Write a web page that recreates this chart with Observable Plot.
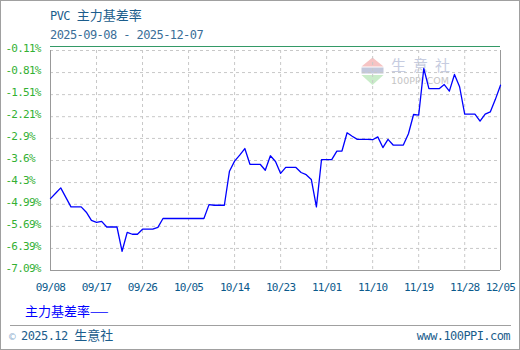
<!DOCTYPE html>
<html><head><meta charset="utf-8">
<script src="https://cdn.jsdelivr.net/npm/d3@7"></script>
<script src="https://cdn.jsdelivr.net/npm/@observablehq/plot@0.6"></script>
<style>
html,body{margin:0;padding:0;background:#fff;}
#wrap{position:relative;width:520px;height:350px;overflow:hidden;background:#fff;}
#deco,#chart{position:absolute;left:0;top:0;}
#chart svg{background:transparent;}
</style></head><body>
<div id="wrap"><svg id="deco" width="520" height="350"></svg><div id="chart"></div></div>
<script>
// ---- data ----
const dates = [
 "09/08","09/09","09/10","09/11","09/12","09/13","09/14","09/15","09/16","09/17","09/18","09/19","09/20","09/21",
 "09/22","09/23","09/24","09/25","09/26","09/27","09/28","09/29","09/30",
 "10/01","10/02","10/03","10/04","10/05","10/06","10/07","10/08","10/09","10/10","10/11","10/12",
 "10/13","10/14","10/15","10/16","10/17","10/18","10/19","10/20","10/21","10/22","10/23","10/24","10/25","10/26",
 "10/27","10/28","10/29","10/30","10/31","11/01","11/02","11/03","11/04","11/05","11/06","11/07","11/08","11/09",
 "11/10","11/11","11/12","11/13","11/14","11/15","11/16","11/17","11/18","11/19","11/20","11/21","11/22","11/23",
 "11/24","11/25","11/26","11/27","11/28","11/29","11/30","12/01","12/02","12/03","12/04","12/05"
];
const basisRate = [
 -4.81,-4.64,-4.47,-4.77,-5.07,-5.07,-5.07,-5.24,-5.50,-5.56,-5.53,-5.71,-5.71,-5.71,
 -6.48,-5.88,-5.94,-5.94,-5.78,-5.78,-5.78,-5.72,-5.44,
 -5.44,-5.44,-5.44,-5.44,-5.44,-5.44,-5.44,-5.44,-5.00,-5.02,-5.02,-5.02,
 -3.94,-3.62,-3.43,-3.22,-3.72,-3.72,-3.72,-3.91,-3.45,-3.63,-4.01,-3.82,-3.82,-3.82,
 -3.98,-4.05,-4.20,-5.07,-3.57,-3.57,-3.57,-3.30,-3.30,-2.72,-2.83,-2.93,-2.93,-2.93,
 -2.94,-2.85,-3.19,-2.93,-3.11,-3.11,-3.11,-2.75,-2.14,-2.16,-0.68,-1.32,-1.32,-1.32,
 -1.19,-1.40,-0.87,-1.26,-2.13,-2.13,-2.13,-2.35,-2.13,-2.06,-1.66,-1.21
];
const yTicks = [-0.11,-0.81,-1.51,-2.21,-2.9,-3.6,-4.3,-4.99,-5.69,-6.39,-7.09];
const xTickLabels = ["09/08","09/17","09/26","10/05","10/14","10/23","11/01","11/10","11/19","11/28","12/05"];
const year = "2025";
const titleAscii = "PVC ", titleCjk = "主力基差率";
const subtitle = "2025-09-08 - 2025-12-07";
const legendLabel = "主力基差率";
const footerLeftAscii = "2025.12 ", footerLeftCjk = "生意社";
const footerRight = "www.100PPI.com";

// ---- chart ----
const parse = s => d3.utcParse("%Y/%m/%d")(year + "/" + s);
const data = dates.map((d, i) => ({date: parse(d), value: basisRate[i]}));
const xTickDates = xTickLabels.map(parse);
const x0 = xTickDates[0], x1 = xTickDates[xTickDates.length - 1];
const mono = "'DejaVu Sans Mono', monospace";
const cjk = "'Noto Sans CJK SC', sans-serif";

const chart = Plot.plot({
  width: 520, height: 300,
  marginTop: 50, marginBottom: 30, marginLeft: 50, marginRight: 20,
  style: {background: "transparent", overflow: "visible"},
  x: {type: "utc", domain: [x0, x1]},
  y: {domain: [yTicks[yTicks.length - 1], yTicks[0]]},
  marks: [
    Plot.ruleY(yTicks, {stroke: "#c8c8c8", strokeDasharray: "3,3"}),
    Plot.ruleX(xTickDates.slice(1, -1), {stroke: "#c8c8c8", strokeDasharray: "3,3"}),
    Plot.ruleX([x0, x1], {stroke: "#999"}),
    Plot.ruleY([yTicks[yTicks.length - 1]], {stroke: "#999"}),
    Plot.ruleY([yTicks[0]], {stroke: "#339966", dy: -4}),
    Plot.line(data, {x: "date", y: "value", stroke: "#0000ff", strokeWidth: 1.3}),
    Plot.axisY(yTicks, {tickSize: 0, tickPadding: 0, textAnchor: "start", dx: -45, dy: -2,
      tickFormat: v => `${v}%`, color: "#33b033", fontSize: 11, fontFamily: mono, label: null}),
    Plot.axisX(xTickDates, {tickSize: 0, tickPadding: 13, tickFormat: d3.utcFormat("%m/%d"),
      color: "#0b5a8c", fontSize: 11, fontFamily: mono, label: null})
  ]
});
d3.select(chart).selectAll("text").style("letter-spacing", "-0.75px");
document.getElementById("chart").appendChild(chart);

// ---- decorations: frame, titles, legend, footer, watermark ----
const deco = d3.select("#deco");
deco.append("rect").attr("x", 0.5).attr("y", 0.5).attr("width", 519).attr("height", 349)
  .attr("fill", "#fff").attr("stroke", "#a0a0a0");

function addText(x, y, parts, anchor) {
  const t = deco.append("text").attr("x", x).attr("y", y).attr("text-anchor", anchor || "start");
  parts.forEach(p => {
    const s = t.append("tspan").text(p.t).attr("font-family", p.font).attr("font-size", p.size)
      .attr("fill", p.fill).style("letter-spacing", p.ls || "0px");
    if (p.len) s.attr("textLength", p.len).attr("lengthAdjust", "spacing");
  });
  return t;
}
// watermark
const wm = deco.append("g");
wm.append("polygon").attr("points", "361.5,66.5 372.5,57.5 383.5,66.5").attr("fill", "#f6c4c4");
wm.append("rect").attr("x", 361.5).attr("y", 67.5).attr("width", 22).attr("height", 6).attr("fill", "#c3c8dc");
wm.append("polygon").attr("points", "361.5,75 383.5,75 372.5,85").attr("fill", "#c9ecc9");
addText(391, 70.5, [{t: "生意社", font: cjk, size: 15, fill: "#c6cce0", len: 59}]);
addText(391, 84, [{t: "100PPI.COM", font: "'DejaVu Sans', sans-serif", size: 9.5, fill: "#c4c4c4", len: 58}]);

addText(50, 20, [
  {t: titleAscii, font: mono, size: 12, fill: "#1b5d8c", ls: "-0.57px"},
  {t: titleCjk, font: cjk, size: 13, fill: "#1b5d8c"}
]);
addText(50, 39, [{t: subtitle, font: mono, size: 12, fill: "#3a6e98", ls: "-0.57px"}]);
addText(25, 315.5, [
  {t: legendLabel, font: cjk, size: 13, fill: "#0000ff"},
  {t: "——", font: cjk, size: 11, fill: "#0000ff"}
]);
deco.append("line").attr("x1", 10).attr("x2", 511).attr("y1", 325.5).attr("y2", 325.5).attr("stroke", "#a0a0a0");
addText(9, 339.5, [
  {t: "© ", font: mono, size: 11, fill: "#8fb0d0", ls: "-0.6px"},
  {t: footerLeftAscii, font: mono, size: 12, fill: "#1b5d8c", ls: "-0.57px"},
  {t: footerLeftCjk, font: cjk, size: 13, fill: "#1b5d8c"}
]);
addText(510, 339.5, [{t: footerRight, font: mono, size: 12, fill: "#1b5d8c", ls: "-0.57px"}], "end");
</script>
</body></html>
